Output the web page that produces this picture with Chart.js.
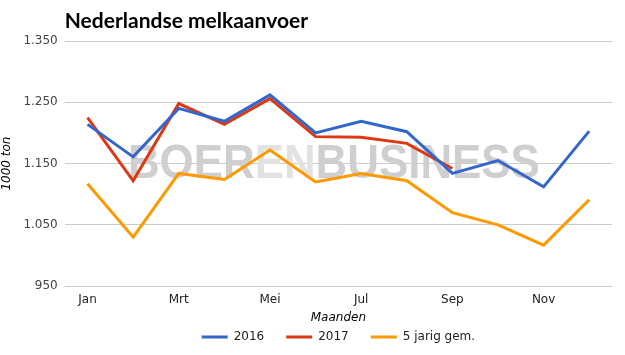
<!DOCTYPE html>
<html>
<head>
<meta charset="utf-8">
<script src="https://cdn.jsdelivr.net/npm/chart.js@4"></script>
<style>
  html, body { margin: 0; padding: 0; background: #fff; }
  #wrap { width: 625px; height: 355px; position: relative; }
</style>
</head>
<body>
<div id="wrap"><canvas id="chart"></canvas></div>
<script>
const maanden = ['Jan', 'Feb', 'Mrt', 'Apr', 'Mei', 'Jun', 'Jul', 'Aug', 'Sep', 'Okt', 'Nov', 'Dec'];
const melk2016 = [1214, 1161, 1240, 1219, 1262, 1200, 1219, 1202, 1134, 1155, 1112, 1203];
const melk2017 = [1225, 1122, 1248, 1214, 1256, 1194, 1193, 1183, 1142, null, null, null];
const gem5jaar = [1117, 1030, 1134, 1124, 1172, 1120, 1134, 1122, 1070, 1050, 1017, 1091];
const yTicks = [950, 1050, 1150, 1250, 1350];

const fontFam = '"DejaVu Sans", sans-serif';

// punt als duizendtal-scheiding
const fmt = (v) => String(v).replace(/\B(?=(\d{3})+(?!\d))/g, '.');

const extras = {
  id: 'extras',
  beforeDatasetsDraw(chart) {
    // watermerk
    const { ctx, chartArea } = chart;
    const cx = (chartArea.left + chartArea.right) / 2 - 4.5;
    const cy = (chartArea.top + chartArea.bottom) / 2 + 14;
    ctx.save();
    ctx.font = 'bold 49px "Liberation Sans", Arial, sans-serif';
    ctx.textBaseline = 'alphabetic';
    const parts = [['BOER', '#cfcfcf'], ['EN', '#e2e2e2'], ['BUSINESS', '#cfcfcf']];
    let total = 0;
    parts.forEach(p => total += ctx.measureText(p[0]).width);
    const sx = 412 / total;
    ctx.translate(cx, cy);
    ctx.scale(sx, 1);
    let x = -total / 2;
    parts.forEach(p => {
      ctx.fillStyle = p[1];
      ctx.fillText(p[0], x, 0);
      x += ctx.measureText(p[0]).width;
    });
    ctx.restore();
  },
  afterDraw(chart) {
    const { ctx, chartArea } = chart;
    ctx.save();
    ctx.font = 'bold 21px Lato, sans-serif';
    ctx.fillStyle = '#000';
    ctx.textBaseline = 'alphabetic';
    ctx.fillText('Nederlandse melkaanvoer', chartArea.left, 28);

    // legenda onderaan
    ctx.font = '12px ' + fontFam;
    const items = chart.data.datasets.map(ds => ({
      text: ds.label, color: ds.borderColor, w: 26 + 6 + ctx.measureText(ds.label).width
    }));
    const gap = 22;
    const totalW = items.reduce((s, it) => s + it.w, 0) + gap * (items.length - 1);
    let x = (chartArea.left + chartArea.right) / 2 - totalW / 2;
    const y = 337;
    ctx.textBaseline = 'middle';
    items.forEach(it => {
      ctx.fillStyle = it.color;
      ctx.fillRect(x, y - 1.5, 26, 3);
      ctx.fillStyle = '#222';
      ctx.fillText(it.text, x + 32, y);
      x += it.w + gap;
    });
    ctx.restore();
  }
};

const lineSet = (label, data, color) => ({
  label, data,
  borderColor: color,
  backgroundColor: color,
  borderWidth: 3,
  pointRadius: 0,
  tension: 0,
  spanGaps: false
});

new Chart(document.getElementById('chart'), {
  type: 'line',
  data: {
    labels: maanden,
    datasets: [
      lineSet('2016', melk2016, '#3366cc'),
      lineSet('2017', melk2017, '#dc3912'),
      lineSet('5 jarig gem.', gem5jaar, '#ff9900')
    ]
  },
  options: {
    responsive: true,
    maintainAspectRatio: false,
    animation: false,
    layout: { padding: { top: 41, right: 13, left: 0, bottom: 30 } },
    plugins: {
      title: { display: false },
      tooltip: { enabled: false },
      legend: { display: false }
    },
    scales: {
      x: {
        offset: true,
        grid: { display: false },
        border: { display: false },
        ticks: {
          autoSkip: false,
          maxRotation: 0,
          padding: -2,
          color: '#222',
          font: { family: fontFam, size: 12 },
          callback: (v, i) => (i % 2 === 0 ? maanden[i] : '')
        },
        title: {
          display: true,
          text: 'Maanden',
          color: '#000',
          font: { family: fontFam, size: 12, style: 'italic' },
          padding: { top: 6, bottom: 0 }
        }
      },
      y: {
        min: 950,
        max: 1350,
        afterBuildTicks: (axis) => { axis.ticks = yTicks.map(v => ({ value: v })); },
        grid: { color: '#cccccc', drawTicks: false },
        border: { display: false },
        ticks: {
          padding: 7,
          color: '#444',
          font: { family: fontFam, size: 12 },
          callback: (v) => fmt(v)
        },
        title: {
          display: true,
          text: '1000 ton',
          color: '#000',
          font: { family: fontFam, size: 12, style: 'italic' },
          padding: { top: 0, bottom: 2 }
        }
      }
    }
  },
  plugins: [extras]
});
</script>
</body>
</html>
